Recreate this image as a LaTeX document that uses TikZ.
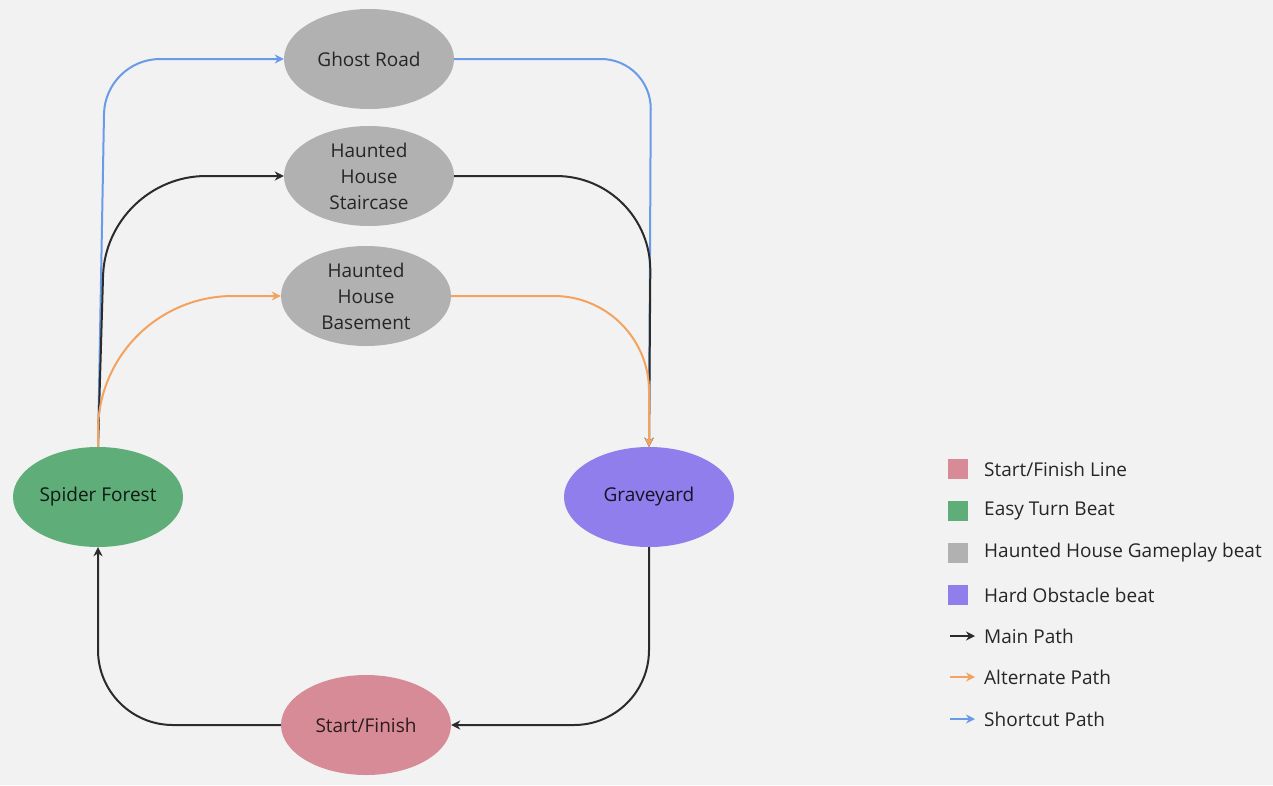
\documentclass[tikz,border=0pt]{standalone}
\usepackage{fontspec}
\setmainfont{Open Sans}
\usetikzlibrary{arrows.meta}
\definecolor{bgcol}{HTML}{F2F2F2}
\definecolor{ghostcol}{HTML}{B1B1B1}
\definecolor{easycol}{HTML}{5FAD79}
\definecolor{hardcol}{HTML}{8F7EEC}
\definecolor{startcol}{HTML}{D68B97}
\definecolor{maincol}{HTML}{2B2B2B}
\definecolor{altcol}{HTML}{F2A35F}
\definecolor{shortcol}{HTML}{6A9BE8}
\definecolor{inkcol}{HTML}{262626}
\tikzset{
  beat/.style={ellipse, minimum width=170pt, minimum height=100pt, inner sep=0pt,
    align=center, font=\fontsize{19}{26}\selectfont},
  mainpath/.style={draw=maincol, line width=2pt, -{Stealth[length=9pt,width=9pt]}},
  altpath/.style={draw=altcol, line width=2pt, -{Stealth[length=9pt,width=9pt]}},
  shortpath/.style={draw=shortcol, line width=2pt, -{Stealth[length=9pt,width=9pt]}},
  keybox/.style={minimum size=20pt, inner sep=0pt},
  keytext/.style={anchor=west, inner sep=0pt, font=\fontsize{19}{22}\selectfont, text=inkcol}
}
\usetikzlibrary{shapes.geometric}
\begin{document}
\begin{tikzpicture}[x=1pt,y=-1pt]
    \fill[bgcol] (0,0) rectangle (1273,785);
    \useasboundingbox (0,0) rectangle (1273,785);

    % beats
    \node[beat, fill=ghostcol, text=inkcol] (ghost) at (369,59) {Ghost Road};
    \node[beat, fill=ghostcol, text=inkcol] (stair) at (369,176) {Haunted\\House\\Staircase};
    \node[beat, fill=ghostcol, text=inkcol] (base) at (366,296) {Haunted\\House\\Basement};
    \node[beat, fill=easycol, text=black!85!easycol] (forest) at (98,497) {Spider Forest};
    \node[beat, fill=hardcol, text=black!85!hardcol] (grave) at (649,497) {Graveyard};
    \node[beat, fill=startcol, text=black!80!startcol] (start) at (366,725) {Start/Finish};

    % main loop
    \draw[mainpath, rounded corners=75pt] (start.west) -- (98,725) -- (forest.south);
    \draw[mainpath, rounded corners=75pt] (grave.south) -- (649,725) -- (start.east);

    % up to the haunted house
    \draw[shortpath, rounded corners=55pt] (forest.north) -- (105,59) -- (ghost.west);
    \draw[mainpath, rounded corners=100pt] (forest.north) -- (106,176) -- (stair.west);
    \draw[altpath, rounded corners=135pt] (forest.north) -- (98,296) -- (base.west);

    % down to the graveyard
    \draw[shortpath, rounded corners=50pt] (ghost.east) -- (651,59) -- (grave.north);
    \draw[mainpath, rounded corners=95pt] (stair.east) -- (651,176) -- (grave.north);
    \draw[altpath, rounded corners=95pt] (base.east) -- (649,296) -- (grave.north);

    % key
    \node[keybox, fill=startcol] (k1) at (958,469) {};
    \node[keybox, fill=easycol] (k2) at (958,511) {};
    \node[keybox, fill=ghostcol] (k3) at (958,553) {};
    \node[keybox, fill=hardcol] (k4) at (958,595) {};
    \node[keytext] (t1) at (984,469) {Start/Finish Line};
    \node[keytext] (t2) at (984,511) {Easy Turn Beat};
    \node[keytext] (t3) at (984,553) {Haunted House Gameplay beat};
    \node[keytext] (t4) at (984,595) {Hard Obstacle beat};
    \coordinate (a1) at (950,636);
    \coordinate (a2) at (950,677);
    \coordinate (a3) at (950,719);
    \node[keytext] (t5) at (984,636) {Main Path};
    \node[keytext] (t6) at (984,677) {Alternate Path};
    \node[keytext] (t7) at (984,719) {Shortcut Path};
    \draw[mainpath, line width=1.6pt] (a1) -- ++(25,0);
    \draw[altpath, line width=1.6pt] (a2) -- ++(25,0);
    \draw[shortpath, line width=1.6pt] (a3) -- ++(25,0);
\end{tikzpicture}
\end{document}
